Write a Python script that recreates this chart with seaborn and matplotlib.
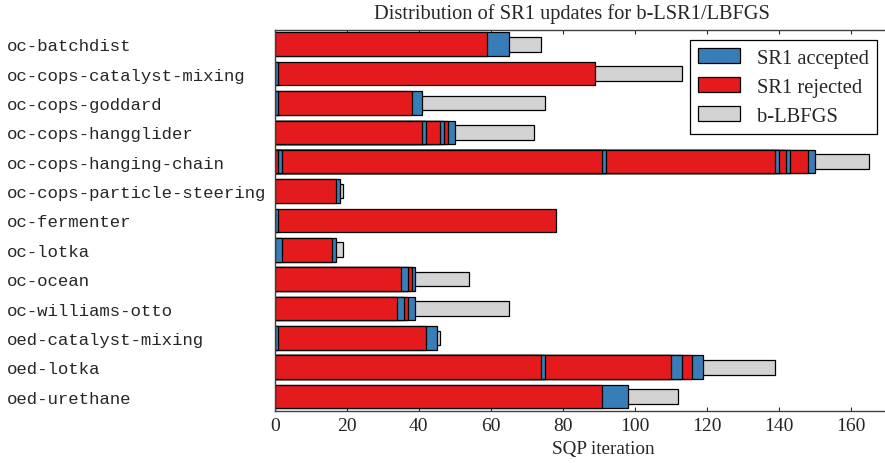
import numpy as np
import pandas as pd
import matplotlib
matplotlib.use("Agg")
import matplotlib.pyplot as plt
from matplotlib.patches import Patch
import seaborn as sns

# ---- data: problems and their run of iteration types ----
# A = SR1 accepted, R = SR1 rejected, L = b-LBFGS
problems = [
    "oc-batchdist",
    "oc-cops-catalyst-mixing",
    "oc-cops-goddard",
    "oc-cops-hangglider",
    "oc-cops-hanging-chain",
    "oc-cops-particle-steering",
    "oc-fermenter",
    "oc-lotka",
    "oc-ocean",
    "oc-williams-otto",
    "oed-catalyst-mixing",
    "oed-lotka",
    "oed-urethane",
]

seg_kinds = [
    ["R", "A", "L"],
    ["A", "R", "L"],
    ["A", "R", "A", "L"],
    ["R", "A", "R", "A", "R", "A", "L"],
    ["R", "A", "R", "A", "R", "A", "R", "A", "R", "A", "L"],
    ["R", "A", "L"],
    ["A", "R"],
    ["A", "R", "A", "L"],
    ["R", "A", "R", "A", "L"],
    ["R", "A", "R", "A", "L"],
    ["A", "R", "A", "L"],
    ["R", "A", "R", "A", "R", "A", "L"],
    ["R", "A", "L"],
]

seg_lengths = [
    [59, 6, 9],
    [1, 88, 24],
    [1, 37, 3, 34],
    [41, 1, 4, 1, 1, 2, 22],
    [1, 1, 89, 1, 47, 1, 2, 1, 5, 2, 15],
    [17, 1, 1],
    [1, 77],
    [2, 14, 1, 2],
    [35, 2, 1, 1, 15],
    [34, 2, 1, 2, 26],
    [1, 41, 3, 1],
    [74, 1, 35, 3, 3, 3, 20],
    [91, 7, 14],
]

legend_labels = {"A": "SR1 accepted", "R": "SR1 rejected", "L": "b-LBFGS"}

# ---- long table: one row per segment, with its cumulative end ----
rows = []
for p, kinds, lens in zip(problems, seg_kinds, seg_lengths):
    ends = np.cumsum(lens)
    for layer, (k, e) in enumerate(zip(kinds, ends)):
        rows.append({"problem": p, "kind": k, "end": e, "layer": layer})
df = pd.DataFrame(rows)

# ---- style ----
sns.set_theme(style="ticks")
plt.rcParams["font.family"] = ["Liberation Serif", "DejaVu Serif"]
plt.rcParams["font.size"] = 14

pal = sns.color_palette("Set1")
colors = {"A": pal[1], "R": pal[0], "L": "#d3d3d3"}
widths = {"A": 0.8, "R": 0.8, "L": 0.5}

fig = plt.figure(figsize=(8.85, 4.64), dpi=100)
W, H = 885, 464
ax = fig.add_axes([274.7 / W, 1 - 412.3 / H, (W - 274.7) / W, (412.3 - 30.5) / H])

# stacked bars: draw cumulative bars from the outermost segment inwards
for layer in sorted(df["layer"].unique(), reverse=True):
    sub = df[df["layer"] == layer]
    for k in ["L", "A", "R"]:
        s = sub[sub["kind"] == k]
        if s.empty:
            continue
        sns.barplot(
            data=s, y="problem", x="end", order=problems,
            color=colors[k], saturation=1, width=widths[k],
            edgecolor="black", linewidth=0.9, errorbar=None,
            orient="h", ax=ax,
        )

ax.set_xlim(0, 169.5)
ax.set_ylim(12.5, -0.5)
ax.set_xticks(range(0, 161, 20))
ax.set_xlabel("")
ax.set_ylabel("")
ax.tick_params(axis="x", direction="in", top=True, length=3, width=0.8,
               pad=4, labelsize=14)
ax.tick_params(axis="y", length=0, pad=267.7 * 72 / 100)
ax.set_yticks(range(len(problems)))
ax.set_yticklabels(problems, family=["Liberation Mono", "DejaVu Sans Mono"],
                   fontsize=12.5, ha="left")

for side in ["top", "bottom", "left"]:
    ax.spines[side].set_color("0.25")
    ax.spines[side].set_linewidth(1.0)
ax.spines["right"].set_visible(False)

fig.text(572 / W, 1 - 14.5 / H, "Distribution of SR1 updates for b-LSR1/LBFGS",
         ha="center", va="center", fontsize=14.7)
fig.text(603 / W, 1 - 450 / H, "SQP iteration", ha="center", va="center",
         fontsize=13.8)

handles = [Patch(facecolor=colors[k], edgecolor="black", linewidth=0.9,
                 label=legend_labels[k]) for k in ["A", "R", "L"]]
leg = ax.legend(handles=handles, loc="upper right",
                bbox_to_anchor=(877 / W, 1 - 40.7 / H),
                bbox_transform=fig.transFigure, borderaxespad=0,
                fancybox=False, framealpha=1, edgecolor="black",
                fontsize=14.8, handlelength=2.05, handleheight=0.75,
                handletextpad=0.8, labelspacing=0.45, borderpad=0.4)
leg.get_frame().set_linewidth(0.9)

fig.savefig("out.png", dpi=100)
